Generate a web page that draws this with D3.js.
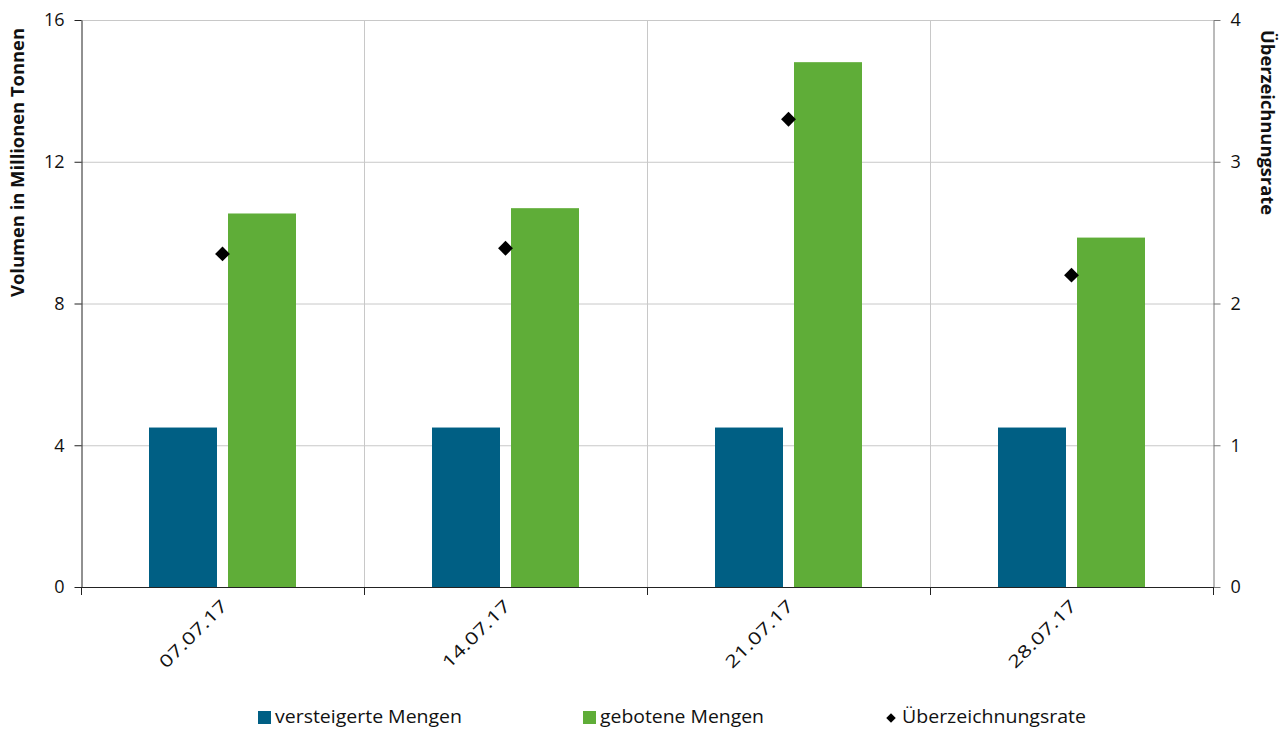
<!DOCTYPE html>
<html>
<head>
<meta charset="utf-8">
<script src="https://cdn.jsdelivr.net/npm/d3@7"></script>
<style>
  html, body { margin: 0; padding: 0; background: #fff; }
  svg { display: block; font-family: "Open Sans", sans-serif; }
</style>
</head>
<body>
<svg id="chart" width="1286" height="729"></svg>
<script>
// Auction dates
const dates = ["07.07.17", "14.07.17", "21.07.17", "28.07.17"];
// Auctioned volume (million tonnes)
const versteigert = [4.5, 4.5, 4.5, 4.5];
// Bid volume (million tonnes)
const geboten = [10.54, 10.69, 14.81, 9.86];
// Cover ratio
const rate = [2.35, 2.39, 3.30, 2.20];
// Axis ticks
const leftTicks = [0, 4, 8, 12, 16];
const rightTicks = [0, 1, 2, 3, 4];

const blue = "#005f84";
const green = "#5fad38";

const svg = d3.select("#chart");
const m = { left: 81, right: 73, top: 20, bottom: 142 };
const W = 1286, H = 729;
const x0 = m.left, x1 = W - m.right, y0 = H - m.bottom, y1 = m.top;

const x = d3.scaleBand().domain(dates).range([x0, x1]).padding(0);
const yL = d3.scaleLinear().domain([0, 16]).range([y0, y1]);
const yR = d3.scaleLinear().domain([0, 4]).range([y0, y1]);

// horizontal gridlines
svg.append("g").selectAll("line").data(leftTicks.filter(d => d > 0)).join("line")
  .attr("x1", x0).attr("x2", x1)
  .attr("y1", d => yL(d) + 0.5).attr("y2", d => yL(d) + 0.5)
  .attr("stroke", "#c8c8c8").attr("stroke-width", 1);

// vertical gridlines between categories
svg.append("g").selectAll("line").data(dates.slice(1)).join("line")
  .attr("x1", d => Math.round(x(d)) + 0.5).attr("x2", d => Math.round(x(d)) + 0.5)
  .attr("y1", y1).attr("y2", y0)
  .attr("stroke", "#c8c8c8").attr("stroke-width", 1);

// bars
const bw = x.bandwidth();
const barW = 68, gap = 11;
const g = svg.append("g");
g.selectAll("rect.v").data(dates).join("rect")
  .attr("x", d => x(d) + bw / 2 - gap / 2 - barW)
  .attr("width", barW)
  .attr("y", (d, i) => yL(versteigert[i]))
  .attr("height", (d, i) => y0 - yL(versteigert[i]))
  .attr("fill", blue);
g.selectAll("rect.g").data(dates).join("rect")
  .attr("x", d => x(d) + bw / 2 + gap / 2)
  .attr("width", barW)
  .attr("y", (d, i) => yL(geboten[i]))
  .attr("height", (d, i) => y0 - yL(geboten[i]))
  .attr("fill", green);

// cover ratio diamonds
const diamond = d3.symbol().type(d3.symbolSquare).size(110);
g.selectAll("path.r").data(dates).join("path")
  .attr("d", diamond)
  .attr("transform", (d, i) => `translate(${x(d) + bw / 2},${yR(rate[i])}) rotate(45)`)
  .attr("fill", "#000");

// left axis
const axL = svg.append("g").attr("transform", `translate(${x0 + 0.5},0)`)
  .call(d3.axisLeft(yL).tickValues(leftTicks).tickFormat(d3.format("d"))
    .tickSize(7).tickPadding(10).tickSizeOuter(0));
axL.select(".domain").attr("stroke", "#222");
axL.selectAll(".tick line").attr("stroke", "#222");
axL.selectAll("text").attr("font-size", 18).attr("fill", "#111").attr("font-family", "Open Sans, sans-serif");

// right axis
const axR = svg.append("g").attr("transform", `translate(${x1 + 0.5},0)`)
  .call(d3.axisRight(yR).tickValues(rightTicks).tickFormat(d3.format("d"))
    .tickSize(7).tickPadding(10).tickSizeOuter(0));
axR.select(".domain").attr("stroke", "#777");
axR.selectAll(".tick line").attr("stroke", "#777");
axR.selectAll("text").attr("font-size", 18).attr("fill", "#111").attr("font-family", "Open Sans, sans-serif");

// bottom axis
const boundaries = [...dates.map(d => x(d)), x1];
const axB = svg.append("g");
axB.append("line").attr("x1", x0).attr("x2", x1).attr("y1", y0 + 0.5).attr("y2", y0 + 0.5)
  .attr("stroke", "#222");
axB.selectAll("line.t").data(boundaries).join("line")
  .attr("x1", d => Math.round(d) + 0.5).attr("x2", d => Math.round(d) + 0.5)
  .attr("y1", y0).attr("y2", y0 + 8).attr("stroke", "#222");
axB.selectAll("text").data(dates).join("text")
  .attr("transform", d => `translate(${x(d) + bw / 2 + 6},${y0 + 20}) rotate(-45)`)
  .attr("text-anchor", "end")
  .attr("font-size", 17)
  .attr("textLength", 88)
  .attr("lengthAdjust", "spacingAndGlyphs")
  .attr("fill", "#111")
  .text(d => d);

// axis titles
svg.append("text")
  .attr("transform", `translate(24,162.5) rotate(-90)`)
  .attr("text-anchor", "middle")
  .attr("font-size", 18).attr("font-weight", "bold").attr("fill", "#111")
  .attr("textLength", 269).attr("lengthAdjust", "spacingAndGlyphs")
  .text("Volumen in Millionen Tonnen");
svg.append("text")
  .attr("transform", `translate(1261,122.5) rotate(90)`)
  .attr("text-anchor", "middle")
  .attr("font-size", 18).attr("font-weight", "bold").attr("fill", "#111")
  .attr("textLength", 185).attr("lengthAdjust", "spacingAndGlyphs")
  .text("Überzeichnungsrate");

// legend
const leg = svg.append("g").attr("font-size", 19).attr("fill", "#111");
leg.append("rect").attr("x", 258).attr("y", 711).attr("width", 13).attr("height", 13).attr("fill", blue);
leg.append("text").attr("x", 275).attr("y", 723).attr("textLength", 187)
  .attr("lengthAdjust", "spacingAndGlyphs").text("versteigerte Mengen");
leg.append("rect").attr("x", 583).attr("y", 711).attr("width", 13).attr("height", 13).attr("fill", green);
leg.append("text").attr("x", 600).attr("y", 723).attr("textLength", 164)
  .attr("lengthAdjust", "spacingAndGlyphs").text("gebotene Mengen");
leg.append("path").attr("d", d3.symbol().type(d3.symbolSquare).size(45))
  .attr("transform", "translate(891,718) rotate(45)").attr("fill", "#000");
leg.append("text").attr("x", 902).attr("y", 723).attr("textLength", 184)
  .attr("lengthAdjust", "spacingAndGlyphs").text("Überzeichnungsrate");
</script>
</body>
</html>
